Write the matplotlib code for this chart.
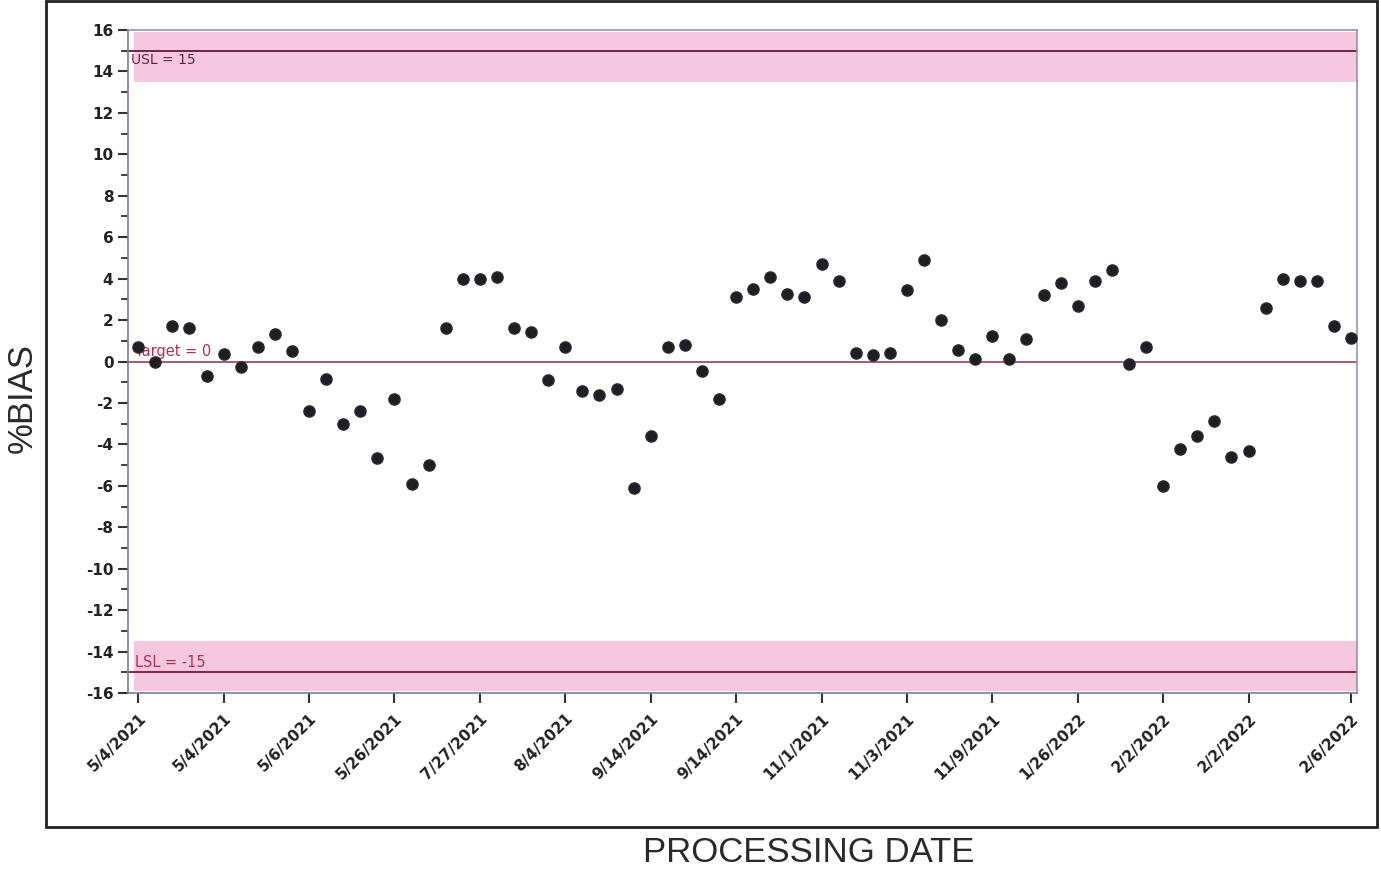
import matplotlib
matplotlib.use("Agg")
import matplotlib.pyplot as plt
from matplotlib.patches import Rectangle
import numpy as np

plt.rcParams["axes.unicode_minus"] = False

# Data
bias = [0.72, 0.0, 1.7, 1.6, -0.7, 0.35, -0.25, 0.7, 1.35, 0.5,
        -2.4, -0.85, -3.0, -2.4, -4.65, -1.8, -5.9, -5.0, 1.6, 4.0,
        4.0, 4.1, 1.6, 1.4, -0.9, 0.7, -1.4, -1.6, -1.35, -6.1,
        -3.6, 0.7, 0.8, -0.45, -1.8, 3.1, 3.5, 4.1, 3.25, 3.1,
        4.7, 3.9, 0.4, 0.3, 0.4, 3.45, 4.9, 2.0, 0.55, 0.1,
        1.25, 0.1, 1.1, 3.2, 3.8, 2.7, 3.9, 4.4, -0.1, 0.7,
        -6.0, -4.2, -3.6, -2.85, -4.6, -4.3, 2.6, 4.0, 3.9, 3.9,
        1.7, 1.15]
tick_positions = [0, 5, 10, 15, 20, 25, 30, 35, 40, 45, 50, 55, 60, 65, 71]
tick_labels = ["5/4/2021", "5/4/2021", "5/6/2021", "5/26/2021", "7/27/2021",
               "8/4/2021", "9/14/2021", "9/14/2021", "11/1/2021", "11/3/2021",
               "11/9/2021", "1/26/2022", "2/2/2022", "2/2/2022", "2/6/2022"]
USL, TARGET, LSL = 15, 0, -15

W, H = 1381, 875
fig = plt.figure(figsize=(W / 100, H / 100), dpi=100)
ax = fig.add_axes([128 / W, 1 - 693 / H, (1357 - 128) / W, (693 - 30) / H])

x = np.arange(len(bias))
ax.set_xlim(-0.6, 71.35)
ax.set_ylim(-16, 16)

# spec bands
band = "#f6c8e0"
ax.axhspan(13.5, 15.9, xmin=0.005, xmax=1, color=band, lw=0, zorder=0)
ax.axhspan(-15.9, -13.5, xmin=0.005, xmax=1, color=band, lw=0, zorder=0)

ax.axhline(USL, color="#6e2345", lw=1.4, zorder=1)
ax.axhline(LSL, color="#8a2040", lw=1.4, zorder=1)
ax.axhline(TARGET, color="#8a3048", lw=1.1, zorder=1)

ax.text(-0.4, USL - 0.12, "USL = 15", color="#6e1f3f", fontsize=10,
        family="DejaVu Sans", va="top", ha="left", zorder=3)
ax.text(-0.2, TARGET + 0.1, "Target = 0", color="#b03050", fontsize=10.5,
        family="DejaVu Sans", va="bottom", ha="left", zorder=3)
ax.text(-0.2, LSL + 0.1, "LSL = -15", color="#b03050", fontsize=10.5,
        family="DejaVu Sans", va="bottom", ha="left", zorder=3)

ax.scatter(x, bias, s=65, color="#1e1e24", edgecolors="#2a2a30", zorder=4)

ax.set_yticks(np.arange(-16, 17, 2))
ax.set_yticks(np.arange(-15, 16, 2), minor=True)
ax.set_xticks(tick_positions)
ax.set_xticklabels(tick_labels, rotation=45, ha="right", rotation_mode="anchor")
ax.tick_params(axis="both", which="major", length=7, width=1.5, color="#333333",
               labelsize=11, labelcolor="#222222")
ax.tick_params(axis="y", which="minor", length=5, width=1.3, color="#333333")
for lab in ax.get_xticklabels() + ax.get_yticklabels():
    lab.set_fontweight("bold")
ax.tick_params(axis="x", pad=6)

for s in ax.spines.values():
    s.set_color("#9a90b0")
    s.set_linewidth(1.2)
ax.spines["left"].set_color("#7a7aa0")
ax.spines["bottom"].set_color("#7a7aa0")

# outer frame
fig.patches.append(Rectangle((46 / W, 1 - 827 / H), (1377 - 46) / W, (826) / H,
                             transform=fig.transFigure, fill=False,
                             edgecolor="#222222", lw=2.0))

fig.text(22 / W, 1 - 398 / H, "%BIAS", rotation=90, ha="center", va="center",
         fontsize=25, family="Liberation Sans", color="#2a2a2a")
fig.text(809 / W, 1 - 852 / H, "PROCESSING DATE", ha="center", va="center",
         fontsize=25, family="Liberation Sans", color="#2a2a2a")

fig.savefig("out.png", dpi=100)
